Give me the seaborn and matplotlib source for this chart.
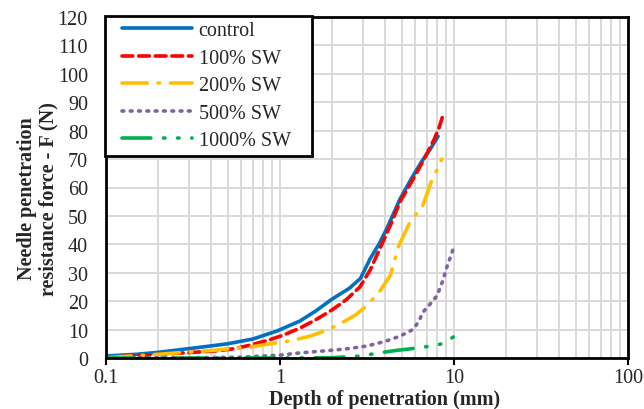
import matplotlib
matplotlib.use("Agg")
import matplotlib.pyplot as plt
import seaborn as sns
import pandas as pd
from matplotlib.patches import Rectangle
from matplotlib.ticker import FixedLocator, LogLocator, NullFormatter

ctrl_x = [0.1, 0.15, 0.2, 0.35, 0.5, 0.7, 0.96, 1.3, 1.6, 2.0, 2.5, 2.9, 3.3, 3.7, 4.1, 4.9, 5.8, 6.5, 7.3, 8.1]
ctrl_y = [0.7, 1.3, 2.0, 3.8, 5.0, 6.7, 9.5, 13.0, 16.5, 20.8, 24.5, 28.0, 35.0, 40.0, 45.4, 56.0, 64.0, 69.0, 73.5, 78.0]

sw100_x = [0.1, 0.15, 0.22, 0.3, 0.43, 0.55, 0.67, 0.85, 1.04, 1.3, 1.63, 2.0, 2.4, 2.88, 3.3, 3.9, 4.4, 4.9, 5.7, 6.6, 7.7, 8.2, 8.6]
sw100_y = [0.3, 0.8, 1.4, 1.9, 2.5, 3.3, 4.5, 6.2, 8.0, 10.5, 13.7, 17.0, 20.5, 25.0, 31.0, 40.8, 48.0, 55.0, 62.0, 69.0, 77.0, 81.0, 85.0]

sw200_x = [0.1, 0.14, 0.2, 0.28, 0.4, 0.5, 0.7, 0.88, 1.14, 1.49, 1.9, 2.3, 2.7, 3.15, 3.7, 4.3, 4.8, 5.6, 6.6, 7.4, 8.1, 8.5]
sw200_y = [0.1, 0.7, 1.3, 2.0, 2.6, 3.2, 4.0, 5.0, 6.0, 7.7, 10.0, 12.6, 15.0, 18.4, 23.0, 29.0, 39.4, 48.0, 53.5, 62.0, 67.0, 70.0]

sw500_x = [0.1, 0.3, 0.6, 0.8, 1.0, 1.3, 1.8, 2.4, 3.15, 4.0, 4.9, 5.8, 6.3, 6.6, 7.3, 8.0, 8.6, 9.1, 9.6, 9.9]
sw500_y = [0.0, 0.1, 0.3, 0.7, 1.0, 1.8, 2.5, 3.2, 4.2, 5.8, 7.7, 10.0, 13.0, 16.0, 19.0, 22.0, 27.0, 32.0, 36.0, 38.5]

sw1000_x = [0.1, 0.5, 1.0, 2.0, 2.88, 3.4, 3.9, 4.7, 5.6, 6.5, 7.5, 8.5, 9.3, 9.9]
sw1000_y = [0.0, 0.0, 0.0, 0.1, 0.7, 1.4, 2.0, 2.7, 3.2, 3.8, 4.2, 5.0, 6.2, 7.4]

labels = ["control", "100% SW", "200% SW", "500% SW", "1000% SW"]
x_ticks = [0.1, 1, 10, 100]
x_tick_labels = ["0.1", "1", "10", "100"]
y_ticks = list(range(0, 130, 10))

series = [(ctrl_x, ctrl_y), (sw100_x, sw100_y), (sw200_x, sw200_y), (sw500_x, sw500_y), (sw1000_x, sw1000_y)]
colors = ["#0070C0", "#FF0000", "#FFC000", "#8064A2", "#00B050"]
styles = ["-", (0, (3, 1.6)), (0, (7, 3, 0.4, 3)), (0, (0.5, 1.8)), (0, (8, 3.5, 0.4, 3.5, 0.4, 3.5))]

sns.set_theme(style="white")
plt.rcParams["font.family"] = ["Liberation Serif", "DejaVu Serif"]
plt.rcParams["font.size"] = 14

FW, FH = 644, 410
AX_L, AX_B, AX_W, AX_H = 106, 51, 522, 341

fig = plt.figure(figsize=(6.44, 4.10), dpi=100)
ax = fig.add_axes([AX_L / FW, AX_B / FH, AX_W / FW, AX_H / FH])

def ax_frac(px, py_top):
    return (px - AX_L) / AX_W, (FH - py_top - AX_B) / AX_H

frames = []
for lab, (xs, ys) in zip(labels, series):
    frames.append(pd.DataFrame({"x": xs, "y": ys, "series": lab}))
df = pd.concat(frames, ignore_index=True)

for lab, col, ls in zip(labels, colors, styles):
    sub = df[df["series"] == lab]
    sns.lineplot(data=sub, x="x", y="y", color=col, ax=ax, label=lab,
                 sort=False, estimator=None, linewidth=2.6)
    line = ax.lines[-1]
    line.set_linestyle(ls)
    line.set_dash_capstyle("round")
    line.set_solid_capstyle("round")

ax.set_xscale("log")
ax.set_xlim(0.1, 100)
ax.set_ylim(0, 120)
ax.xaxis.set_major_locator(FixedLocator(x_ticks))
ax.set_xticklabels(x_tick_labels)
ax.xaxis.set_minor_locator(LogLocator(base=10, subs=range(2, 10)))
ax.xaxis.set_minor_formatter(NullFormatter())
ax.set_yticks(y_ticks)
ax.set_yticklabels([str(v) for v in y_ticks])

ax.grid(True, which="major", axis="both", color="#d9d9d9", linewidth=1.4)
ax.grid(True, which="minor", axis="x", color="#d9d9d9", linewidth=1.4)
ax.set_axisbelow(True)

for sp in ax.spines.values():
    sp.set_visible(True)
    sp.set_color("black")
    sp.set_linewidth(2.0)

ax.tick_params(axis="x", which="major", direction="out", length=5, width=1.5, color="black",
               labelsize=14.5, pad=2, bottom=True)
ax.tick_params(axis="x", which="minor", length=0)
ax.tick_params(axis="y", which="both", length=0, labelsize=14.5, pad=13)

ax.set_xlabel("Depth of penetration (mm)", fontsize=14.5, fontweight="bold")
ax.xaxis.set_label_coords((385 - AX_L) / AX_W, -0.09)
ax.set_ylabel("Needle penetration\nresistance force - F (N)", fontsize=14.5, fontweight="bold",
              linespacing=1.05)
ax.yaxis.set_label_coords((58 - AX_L) / AX_W, 0.47)

# legend box
x0, y1 = ax_frac(105, 17)
x1, y0 = ax_frac(312, 157)
box = Rectangle((x0, y0), x1 - x0, y1 - y0, transform=ax.transAxes, facecolor="white",
                edgecolor="black", linewidth=2.0, zorder=4, clip_on=False)
ax.add_patch(box)

lx, ly = ax_frac(122, 22)
leg = ax.legend(loc="upper left", bbox_to_anchor=(lx, ly), fontsize=14.5, frameon=False,
                handlelength=3.5, handletextpad=0.3, labelspacing=0.42, borderpad=0,
                borderaxespad=0)
leg.set_zorder(5)

fig.savefig("out.png", dpi=100)
